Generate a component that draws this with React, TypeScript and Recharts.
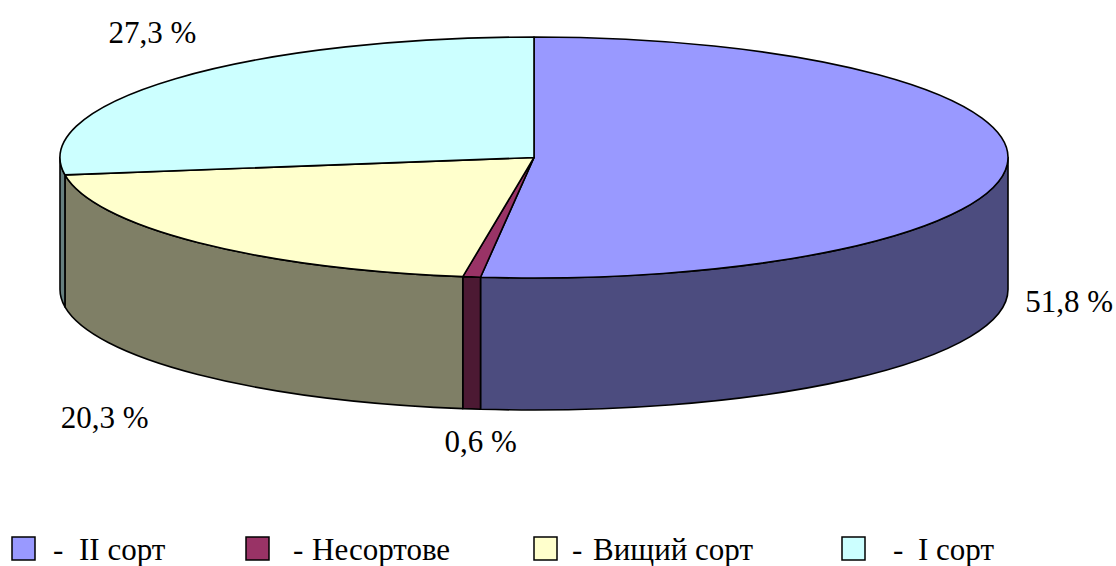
import React from 'react';
import { PieChart, Pie, Legend } from 'recharts';

const categories = ['II сорт', 'Несортове', 'Вищий сорт', 'I сорт'];
const shares = [51.8, 0.6, 20.3, 27.3];

const TOP_COLORS = ['#9999FF', '#993366', '#FFFFCC', '#CCFFFF'];
const SIDE_COLORS = ['#4C4C7F', '#4C1933', '#7F7F66', '#667F7F'];

// layout constants (not data)
const W = 1116;
const H = 566;
const CX = 534;
const CY = 157.5;
const RX = 474;
const TILT = 120.5 / 474;
const DEPTH = 132;
const FONT = "'Liberation Serif', 'Times New Roman', Tinos, 'DejaVu Serif', serif";
const FONT_SIZE = 31;
const LABEL_NUDGE = [
  { dx: 62, dy: 16 },
  { dx: 9, dy: 43 },
  { dx: -93, dy: 54 },
  { dx: -23, dy: -36 },
];
const LEGEND_LAYOUT = [
  { sq: 12, dash: 53, text: 79 },
  { sq: 246, dash: 293, text: 312 },
  { sq: 534, dash: 572, text: 593 },
  { sq: 842, dash: 893, text: 918 },
];

const data = categories.map((name, i) => ({ name, value: shares[i], idx: i }));

const RAD = Math.PI / 180;
const pt = (cx: number, cy: number, rx: number, ry: number, a: number, dy = 0) =>
  `${(cx + rx * Math.cos(a * RAD)).toFixed(2)},${(cy - ry * Math.sin(a * RAD) + dy).toFixed(2)}`;

const textStyle: React.CSSProperties = { fontFamily: FONT, fontSize: FONT_SIZE };

const Slice3D = (props: any) => {
  const { cx, cy, outerRadius, startAngle, endAngle, index } = props;
  const rx = outerRadius;
  const ry = outerRadius * TILT;
  const i = index ?? props.payload?.idx ?? 0;
  const s = Math.max(startAngle, endAngle);
  const e = Math.min(startAngle, endAngle);
  const large = s - e > 180 ? 1 : 0;
  const top = `M${cx},${cy} L${pt(cx, cy, rx, ry, s)} A${rx},${ry} 0 ${large} 1 ${pt(cx, cy, rx, ry, e)} Z`;
  const a = Math.min(s, 0);
  const b = Math.max(e, -180);
  let wall: string | null = null;
  if (a > b) {
    wall = `M${pt(cx, cy, rx, ry, a)} A${rx},${ry} 0 0 1 ${pt(cx, cy, rx, ry, b)} L${pt(cx, cy, rx, ry, b, DEPTH)} A${rx},${ry} 0 0 0 ${pt(cx, cy, rx, ry, a, DEPTH)} Z`;
  }
  return (
    <g>
      {wall && <path d={wall} fill={SIDE_COLORS[i]} stroke="#000" strokeWidth={1.6} strokeLinejoin="round" />}
      <path d={top} fill={TOP_COLORS[i]} stroke="#000" strokeWidth={1.6} strokeLinejoin="round" />
    </g>
  );
};

const renderLabel = (props: any) => {
  const { cx, cy, outerRadius, startAngle, endAngle, index, value } = props;
  const m = (startAngle + endAngle) / 2;
  const ry = outerRadius * TILT;
  const x = cx + outerRadius * Math.cos(m * RAD);
  let y = cy - ry * Math.sin(m * RAD);
  if (Math.sin(m * RAD) < 0) y += DEPTH;
  const n = LABEL_NUDGE[index] || { dx: 0, dy: 0 };
  return (
    <text key={`lbl-${index}`} x={x + n.dx} y={y + n.dy} textAnchor="middle" style={textStyle} fill="#000">
      {`${String(value).replace('.', ',')} %`}
    </text>
  );
};

const LegendContent = () => (
  <svg width={W} height={H} style={{ position: 'absolute', left: 0, top: 0, pointerEvents: 'none' }}>
    {categories.map((name, i) => {
      const l = LEGEND_LAYOUT[i];
      return (
        <g key={name}>
          <rect x={l.sq} y={537} width={23} height={23} fill={TOP_COLORS[i]} stroke="#000" strokeWidth={1.5} />
          <text x={l.dash} y={560} style={textStyle} fill="#000">-</text>
          <text x={l.text} y={560} style={textStyle} fill="#000">{name}</text>
        </g>
      );
    })}
  </svg>
);

export default function App() {
  return (
    <div style={{ position: 'absolute', left: 0, top: 0, width: W, height: H, background: '#fff', fontFamily: FONT }}>
      <PieChart width={W} height={H} margin={{ top: 0, right: 0, bottom: 0, left: 0 }}>
        <Pie
          data={data}
          dataKey="value"
          nameKey="name"
          cx={CX}
          cy={CY}
          outerRadius={RX}
          startAngle={90}
          endAngle={-270}
          isAnimationActive={false}
          shape={Slice3D}
          label={renderLabel}
          labelLine={false}
          stroke="#000"
        />
        <Legend
          content={<LegendContent />}
          wrapperStyle={{ position: 'absolute', left: 0, top: 0, width: W, height: 0 }}
        />
      </PieChart>
    </div>
  );
}
